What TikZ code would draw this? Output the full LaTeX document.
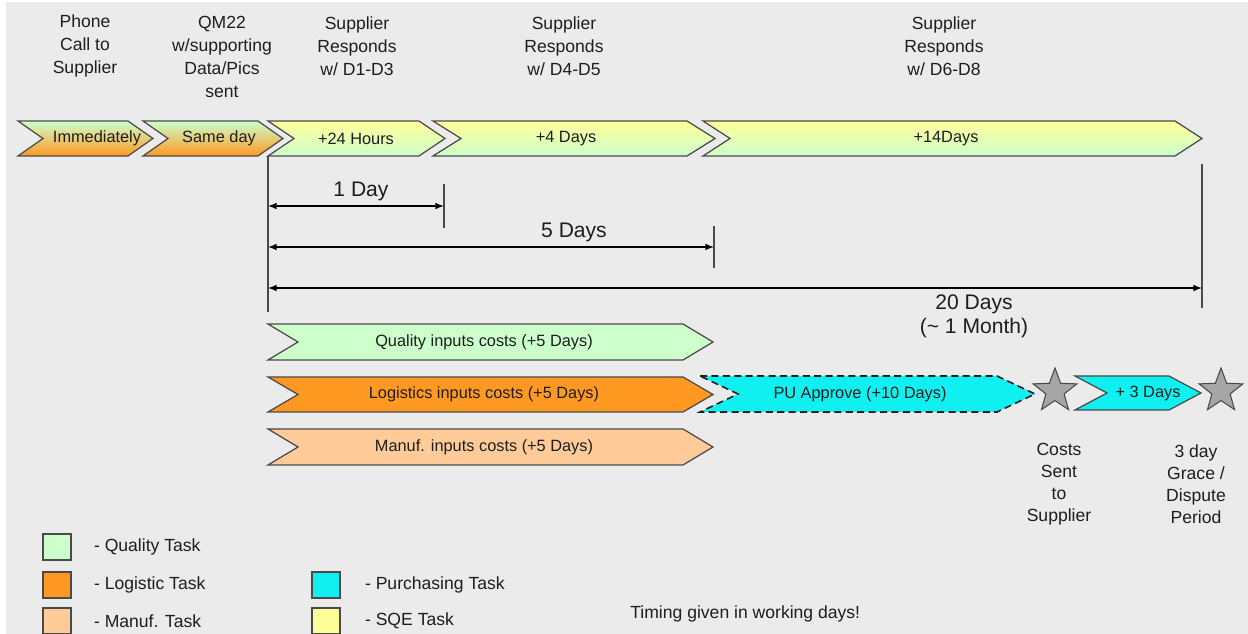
\documentclass[tikz,border=0pt]{standalone}
\usepackage{fontspec}
\setmainfont{Liberation Sans}
\usepackage{xcolor}
\usepackage{tikz}
\usetikzlibrary{shapes, arrows, positioning, calc}

\definecolor{qualgreen}{HTML}{CCFFCC}
\definecolor{logorange}{HTML}{FF9922}
\definecolor{manufpeach}{HTML}{FFCC99}
\definecolor{purcyan}{HTML}{11F0F0}
\definecolor{sqeyellow}{HTML}{FFFF99}
\definecolor{bggrey}{HTML}{EBEBEB}
\definecolor{stargrey}{HTML}{A6A6A6}
\definecolor{edgegrey}{HTML}{4A4A4A}
\definecolor{inkgrey}{HTML}{1E1E1E}

% chevron: style, name, left x, tip x, top y, bottom y, depth, text x, text
\newcommand{\chevron}[9]{%
  \draw[#1] (#3,#5) -- ({#4-#7},#5) -- (#4,{(#5+#6)/2}) -- ({#4-#7},#6)
    -- (#3,#6) -- ({#3+#7},{(#5+#6)/2}) -- cycle;
  \node[chevtext] (#2) at (#8,{(#5+#6)/2}) {#9};
}

\begin{document}
\begin{tikzpicture}[x=0.02cm, y=-0.02cm,
    chev/.style={draw=edgegrey, line width=0.7pt, line join=miter},
    chevtext/.style={inner sep=0pt, text=inkgrey, font=\fontsize{9.3}{11}\selectfont},
    header/.style={inner sep=0pt, align=center, text=inkgrey, font=\fontsize{10}{13}\selectfont},
    note/.style={inner sep=0pt, align=center, text=inkgrey, font=\fontsize{10}{12.5}\selectfont},
    dimtext/.style={inner sep=0pt, align=center, text=inkgrey, font=\fontsize{12}{13.6}\selectfont},
    dimarrow/.style={<->, >=latex, line width=0.7pt, black},
    tick/.style={line width=0.8pt, edgegrey},
    legbox/.style={draw=edgegrey, line width=0.8pt, minimum width=0.56cm, minimum height=0.52cm, inner sep=0pt},
    legtext/.style={inner sep=0pt, anchor=west, text=inkgrey, font=\fontsize{10}{12}\selectfont},
    staricon/.style={star, star points=5, star point ratio=2.4, minimum size=0.92cm, inner sep=0pt,
      fill=stargrey, draw=edgegrey, line width=0.6pt}]

  % Background
  \useasboundingbox (0,0) rectangle (1248,634);
  \fill[white] (0,0) rectangle (1248,634);
  \fill[bggrey] (6,2) rectangle (1248,634);

  % Headers
  \node[header] (hdPhone) at (85,46) {Phone\\Call to\\Supplier};
  \node[header] (hdQM) at (222,57) {QM22\\w/supporting\\Data/Pics\\sent};
  \node[header] (hdDone) at (357,46) {Supplier\\Responds\\w/ D1-D3};
  \node[header] (hdDfour) at (564,46) {Supplier\\Responds\\w/ D4-D5};
  \node[header] (hdDsix) at (944,46) {Supplier\\Responds\\w/ D6-D8};

  % Top chevrons
  \chevron{chev, top color=qualgreen, bottom color=logorange}{cvImm}{18}{153}{121}{156}{25}{97}{Immediately}
  \chevron{chev, top color=qualgreen, bottom color=logorange}{cvSame}{143}{283}{121}{156}{25}{219}{Same day}
  \chevron{chev, top color=sqeyellow, bottom color=qualgreen}{cvHours}{268}{445}{121}{156}{26}{356}{+24 Hours}
  \chevron{chev, top color=sqeyellow, bottom color=qualgreen}{cvFour}{433}{715}{121}{156}{28}{566}{+4 Days}
  \chevron{chev, top color=sqeyellow, bottom color=qualgreen}{cvFourteen}{703}{1202}{121}{156}{27}{946}{+14Days}

  % Ticks
  \coordinate (tkStartA) at (268,156);
  \coordinate (tkStartB) at (268,312);
  \coordinate (tkDayA) at (444,184);
  \coordinate (tkDayB) at (444,228);
  \coordinate (tkFiveA) at (714,226);
  \coordinate (tkFiveB) at (714,268);
  \coordinate (tkTwentyA) at (1202,164);
  \coordinate (tkTwentyB) at (1202,308);
  \draw[tick] (tkStartA) -- (tkStartB);
  \draw[tick] (tkDayA) -- (tkDayB);
  \draw[tick] (tkFiveA) -- (tkFiveB);
  \draw[tick] (tkTwentyA) -- (tkTwentyB);

  % Durations
  \coordinate (dmDayL) at (268,206);
  \coordinate (dmDayR) at (444,206);
  \coordinate (dmFiveL) at (268,247);
  \coordinate (dmFiveR) at (714,247);
  \coordinate (dmTwentyL) at (268,288);
  \coordinate (dmTwentyR) at (1202,288);
  \draw[dimarrow] (dmDayL) -- (dmDayR);
  \draw[dimarrow] (dmFiveL) -- (dmFiveR);
  \draw[dimarrow] (dmTwentyL) -- (dmTwentyR);
  \node[dimtext] (lbDay) at (361,191) {1 Day};
  \node[dimtext] (lbFive) at (574,232) {5 Days};
  \node[dimtext] (lbTwenty) at (974,316) {20 Days\\(\textasciitilde{} 1 Month)};

  % Cost inputs
  \chevron{chev, fill=qualgreen}{cvQual}{268}{713}{324}{360}{30}{484}{Quality inputs costs (+5 Days)}
  \chevron{chev, fill=logorange}{cvLog}{268}{713}{377}{412}{30}{484}{Logistics inputs costs (+5 Days)}
  \chevron{chev, fill=manufpeach}{cvManuf}{268}{713}{429}{465}{30}{484}{Manuf. inputs costs (+5 Days)}
  \chevron{chev, fill=purcyan, draw=inkgrey, line width=0.9pt, dash pattern=on 4pt off 2.5pt}{cvPU}{700}{1035}{376}{412}{38}{860}{PU Approve (+10 Days)}
  \chevron{chev, fill=purcyan}{cvGrace}{1075}{1201}{376}{410}{32}{1148}{+ 3 Days}

  % Milestones
  \node[staricon] (stSent) at (1055,391) {};
  \node[staricon] (stGrace) at (1221,391) {};
  \node[note] (ntSent) at (1059,484) {Costs\\Sent\\to\\Supplier};
  \node[note] (ntGrace) at (1196,484) {3 day\\Grace /\\Dispute\\Period};

  % Legend
  \node[legbox, fill=qualgreen] (lgQual) at (57,547) {};
  \node[legbox, fill=logorange] (lgLog) at (57,585) {};
  \node[legbox, fill=manufpeach] (lgManuf) at (57,621) {};
  \node[legbox, fill=purcyan] (lgPur) at (326,585) {};
  \node[legbox, fill=sqeyellow] (lgSqe) at (326,621) {};
  \node[legtext, right=0.44cm of lgQual] (lgQualTxt) {- Quality Task};
  \node[legtext, right=0.44cm of lgLog] (lgLogTxt) {- Logistic Task};
  \node[legtext, right=0.44cm of lgManuf] (lgManufTxt) {- Manuf. Task};
  \node[legtext, right=0.48cm of lgPur] (lgPurTxt) {- Purchasing Task};
  \node[legtext, right=0.48cm of lgSqe] (lgSqeTxt) {- SQE Task};
  \node[legtext] (lgTiming) at (630,614) {Timing given in working days!};
\end{tikzpicture}
\end{document}
